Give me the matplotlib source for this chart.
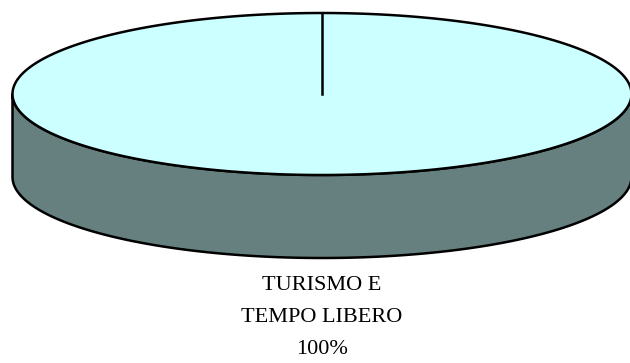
import numpy as np
import matplotlib
matplotlib.use("Agg")
import matplotlib.pyplot as plt
from matplotlib.patches import Polygon

categories = ["TURISMO E\nTEMPO LIBERO"]
values = [100]
top_colors = ["#CCFFFF"]
side_colors = ["#668080"]

fig = plt.figure(figsize=(6.3, 3.63), dpi=100)
ax = fig.add_axes([0, 0, 1, 1])
ax.set_xlim(0, 630)
ax.set_ylim(363, 0)
ax.axis("off")

cx, cy = 322, 94
rx, ry = 309.5, 81
depth = 83

total = float(sum(values))
start = np.pi / 2  # start at top
angles = [start]
for v in values:
    angles.append(angles[-1] - 2 * np.pi * v / total)

def ell(t, dy=0):
    return cx + rx * np.cos(t), cy - ry * np.sin(t) + dy

for i, v in enumerate(values):
    a0, a1 = angles[i], angles[i + 1]
    t = np.linspace(np.pi, 2 * np.pi, 300)
    xs, ys = ell(t)
    xb, yb = ell(t[::-1], depth)
    side = Polygon(np.column_stack([np.r_[xs, xb], np.r_[ys, yb]]),
                   closed=True, facecolor=side_colors[i], edgecolor="black", lw=1.8,
                   joinstyle="round")
    ax.add_patch(side)
    t = np.linspace(a0, a1, 600)
    xt, yt = ell(t)
    if abs(a1 - a0) >= 2 * np.pi - 1e-9:
        pts = np.column_stack([xt, yt])
    else:
        pts = np.column_stack([np.r_[cx, xt], np.r_[cy, yt]])
    top = Polygon(pts, closed=True, facecolor=top_colors[i], edgecolor="black", lw=1.8)
    ax.add_patch(top)
    x0, y0 = ell(a0)
    ax.plot([cx, x0], [cy, y0], color="black", lw=1.8)

    pct = f"{v / total * 100:.0f}%"
    lines = categories[i].split("\n") + [pct]
    for j, s in enumerate(lines):
        ax.text(cx, 285 + j * 32.5, s, ha="center", va="center",
                fontsize=16, family="Liberation Serif", color="black")

fig.savefig("out.png", dpi=100)
